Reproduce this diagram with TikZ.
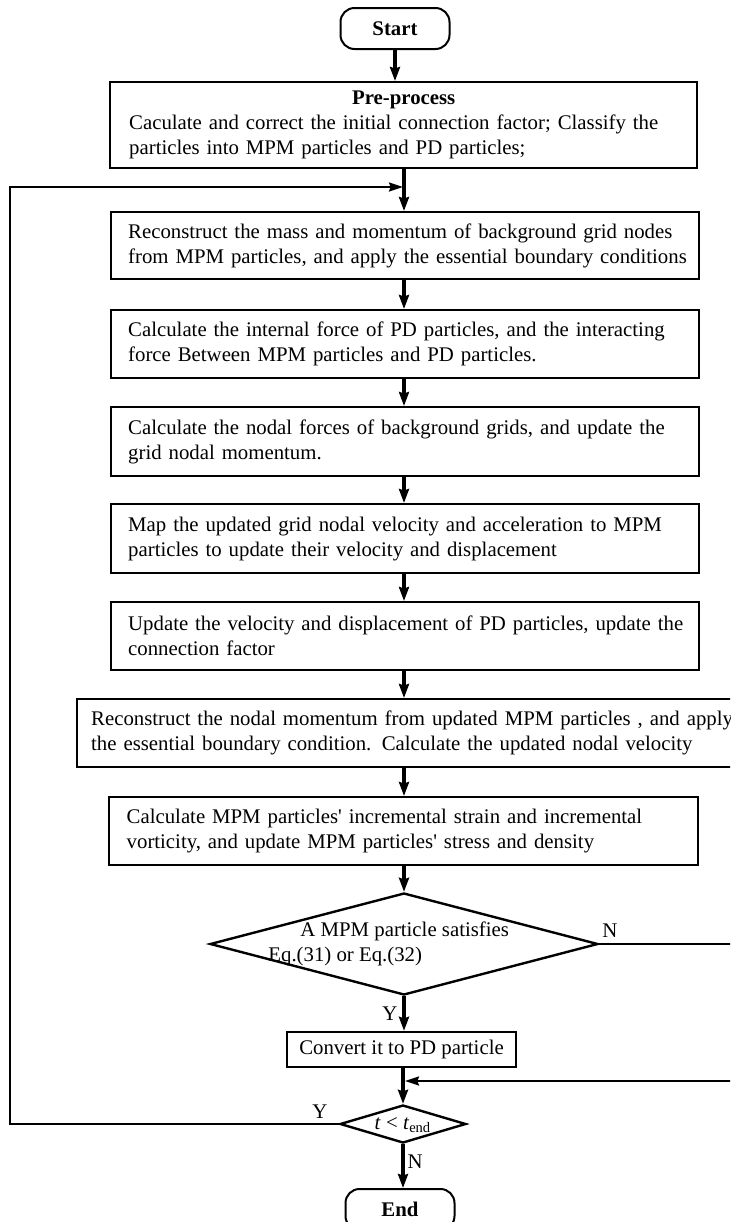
\documentclass[tikz,border=0pt]{standalone}
\usepackage{fontspec}
\setmainfont{Liberation Serif}
\usetikzlibrary{arrows.meta}
\usetikzlibrary{shapes.geometric}

\tikzset{
  txt/.style={font=\fontsize{10.4}{12.5}\selectfont},
  procbox/.style={txt, draw, line width=1.2pt, anchor=north west, align=left, inner xsep=8.5pt, inner ysep=0pt,
    minimum width=294pt, text width=277pt, minimum height=34pt},
  termbox/.style={draw, line width=1pt, rounded corners=7pt, font=\fontsize{10.4}{12.5}\selectfont\bfseries,
    minimum width=54.5pt, minimum height=20.5pt, inner sep=0pt},
  decision/.style={draw, diamond, line width=1.2pt, inner sep=0pt},
  flow/.style={line width=1.6pt, -{Stealth[length=7pt,width=5pt,inset=0.8pt]}},
  backflow/.style={line width=1pt, -{Stealth[length=7pt,width=4.5pt,inset=0.8pt]}},
}

\begin{document}
\begin{tikzpicture}[x=0.5pt,y=-0.5pt]
\useasboundingbox (0,0) rectangle (730,1222);
\clip (0,0) rectangle (730,1222);
\coordinate (ax) at (404,0);

\node[termbox] (start) at (395,28.5) {Start};
\node[procbox, inner xsep=9.5pt, minimum width=293.5pt, minimum height=43pt, text width=274.5pt] (pre) at (109,81)
  {\hfill\textbf{Pre-process}\hfill\null\\
   \mbox{Caculate and correct the initial connection factor; Classify the}\\
   \mbox{particles into MPM particles and PD particles;}};

\node[procbox, minimum height=33.5pt] (b1) at (110,211)
  {\mbox{Reconstruct the mass and momentum of background grid nodes}\\
   \mbox{from MPM particles, and apply the essential boundary conditions}};
\node[procbox] (b2) at (110,309)
  {\mbox{Calculate the internal force of PD particles, and the interacting}\\
   \mbox{force Between MPM particles and PD particles.}};
\node[procbox, minimum height=34.5pt] (b3) at (110,406)
  {\mbox{Calculate the nodal forces of background grids, and update the}\\
   \mbox{grid nodal momentum.}};
\node[procbox, minimum height=34.5pt] (b4) at (110,503)
  {\mbox{Map the updated grid nodal velocity and acceleration to MPM}\\
   \mbox{particles to update their velocity and displacement}};
\node[procbox] (b5) at (110,601)
  {\mbox{Update the velocity and displacement of PD particles, update the}\\
   \mbox{connection factor}};
\node[procbox, inner xsep=7pt, minimum width=335pt, text width=321pt] (b6) at (76,698)
  {\mbox{Reconstruct the nodal momentum from updated MPM particles , and apply}\\
   \mbox{the essential boundary condition. Calculate the updated nodal velocity}};
\node[procbox, minimum width=294.5pt] (b7) at (108,796)
  {\mbox{Calculate MPM particles\textquotesingle{} incremental strain and incremental}\\
   \mbox{vorticity, and update MPM particles\textquotesingle{} stress and density}};

% decision: particle conversion
\node[decision, minimum width=194pt, minimum height=51pt] (dec) at (404,944) {};
\node[txt, anchor=west, align=left, inner sep=0pt] (dectext) at (268,944)
  {\hspace*{16pt}A MPM particle satisfies\\Eq.(31) or Eq.(32)};

\node[procbox, anchor=center, align=center, inner xsep=0pt, text width=, minimum width=114.5pt, minimum height=17.5pt] (conv) at (401.5,1049.5)
  {Convert it to PD particle};

% time loop check
\node[decision, minimum width=63pt, minimum height=19pt] (tchk) at (403,1124) {};
\node[txt, inner sep=0pt] (tlabel) at (403,1125) {\textit{t} < \textit{t}\textsubscript{end}};

\node[termbox] (stop) at (400,1209.5) {End};

\coordinate (join1) at (403,187);
\coordinate (join2) at (405,1081);

\draw[flow] (start) -- (start.south |- pre.north);
\foreach \a/\b in {pre/b1,b1/b2,b2/b3,b3/b4,b4/b5,b5/b6,b6/b7,b7/dec}
  \draw[flow] (\a.south -| ax) -- (\b.north -| ax);
\draw[flow] (dec.south) -- node[txt, left, pos=0.5, inner sep=2.5pt] {Y} (conv.north -| dec.south);
\draw[flow] (conv.south -| tchk.north) -- (tchk.north);
\draw[flow] (tchk.south) -- node[txt, right, pos=0.4, inner sep=1.5pt] {N} (tchk.south |- stop.north);

\draw[backflow] (dec.east) -| (745,1081) -- (join2);
\node[txt] (nlab) at (610,931) {N};
\draw[backflow] (tchk.west) -| (10,187) -- (join1);
\node[txt] (ylab) at (320,1112) {Y};
\end{tikzpicture}
\end{document}
